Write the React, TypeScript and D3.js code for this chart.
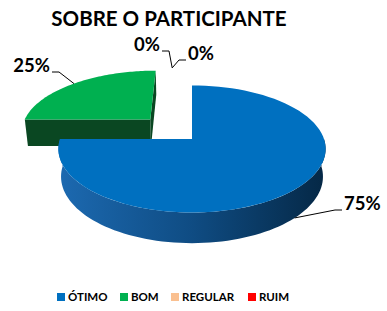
import React from "react";
import * as d3 from "d3";

const width = 387;
const height = 311;

const title = "SOBRE O PARTICIPANTE";
const categories = ["ÓTIMO", "BOM", "REGULAR", "RUIM"];
const values = [75, 25, 0, 0];
const colors = ["#0070C0", "#00B050", "#FAC090", "#FF0000"];
const sideColors = ["#0f4c82", "#0a4722", "#a8784c", "#9a0000"];
const explode = [0, 0.47, 0.47, 0.47];

// 3d projection (excel-like perspective pie)
const cx = 192;
const cy = 139;
const radius = 132;
const tilt = (28 * Math.PI) / 180;
const focal = 5.65;
const depth = 0.24;

function proj(X: number, Y: number, Z: number): [number, number] {
  const up = Y * Math.cos(tilt) + Z * Math.sin(tilt);
  const d = Z * Math.cos(tilt) - Y * Math.sin(tilt);
  const k = focal / (focal + d);
  return [cx + radius * X * k, cy - radius * up * k];
}

// label text positions
const labelPos = [
  { x: 344, y: 210, anchor: "start" },
  { x: 50, y: 72, anchor: "end" },
  { x: 160, y: 51, anchor: "end" },
  { x: 188, y: 60, anchor: "start" },
];
const legendX = [57, 120, 171, 248];

const pieData = d3.pie<number>().sort(null).value((d) => d)(values);

function polyPath(pts: [number, number][]) {
  const p = d3.path();
  pts.forEach((pt, i) => (i ? p.lineTo(pt[0], pt[1]) : p.moveTo(pt[0], pt[1])));
  p.closePath();
  return p.toString();
}

function area(pts: [number, number][]) {
  let s = 0;
  for (let i = 0; i < pts.length; i++) {
    const a = pts[i];
    const b = pts[(i + 1) % pts.length];
    s += a[0] * b[1] - b[0] * a[1];
  }
  return s;
}

export default function App() {
  const slices = pieData.map((d, i) => {
    const mid = (d.startAngle + d.endAngle) / 2;
    const ox = Math.sin(mid) * explode[i];
    const oz = Math.cos(mid) * explode[i];
    const pt = (a: number, r: number, y: number) =>
      proj(ox + Math.sin(a) * r, y, oz + Math.cos(a) * r);
    return { d, i, mid, ox, oz, pt };
  });

  const order = slices
    .filter((s) => s.d.endAngle - s.d.startAngle > 0)
    .sort((a, b) => Math.cos(b.mid) - Math.cos(a.mid));

  const faces: JSX.Element[] = [];
  order.forEach((s) => {
    const { d, i, pt } = s;
    const n = 80;
    const arcPts = (a0: number, a1: number, y: number) =>
      d3.range(n + 1).map((k) => pt(a0 + ((a1 - a0) * k) / n, 1, y));

    // cut faces
    const startFace: [number, number][] = [
      pt(0, 0, 0), pt(d.startAngle, 1, 0), pt(d.startAngle, 1, -depth), pt(0, 0, -depth),
    ];
    const endFace: [number, number][] = [
      pt(0, 0, 0), pt(0, 0, -depth), pt(d.endAngle, 1, -depth), pt(d.endAngle, 1, 0),
    ];
    [startFace, endFace].forEach((f, k) => {
      if (area(f) < 0)
        faces.push(<path key={`c${i}${k}`} d={polyPath(f)} fill={sideColors[i]} />);
    });

    // outer wall, front half only
    const a0 = Math.max(d.startAngle, Math.PI / 2);
    const a1 = Math.min(d.endAngle, (3 * Math.PI) / 2);
    if (a1 > a0) {
      const wall = [...arcPts(a0, a1, 0), ...arcPts(a0, a1, -depth).reverse()];
      faces.push(
        <path key={`w${i}`} d={polyPath(wall)} fill={i === 0 ? "url(#sideBlue)" : sideColors[i]} />
      );
    }

    // top
    const top = [pt(0, 0, 0), ...arcPts(d.startAngle, d.endAngle, 0)];
    faces.push(<path key={`t${i}`} d={polyPath(top)} fill={colors[i]} />);
  });

  // label anchors
  const anchors = slices.map((s) => {
    if (s.d.endAngle - s.d.startAngle > 0) {
      if (Math.cos(s.mid) < 0) return s.pt(s.mid, 1, -depth);
      return s.pt(s.mid, 1, 0);
    }
    // zero slices share a point just past 12 o'clock
    return proj(Math.sin(-0.13) * 1.41, 0, Math.cos(-0.13) * 1.41);
  });

  const font = "Lato, 'Open Sans', sans-serif";

  return (
    <svg width={width} height={height} style={{ position: "fixed", left: 0, top: 0, background: "#fff" }}>
      <defs>
        <linearGradient id="sideBlue" gradientUnits="userSpaceOnUse" x1={cx - radius} x2={cx + radius} y1={0} y2={0}>
          <stop offset="0" stopColor="#1c69b0" />
          <stop offset="0.5" stopColor="#0f4c83" />
          <stop offset="1" stopColor="#052846" />
        </linearGradient>
      </defs>
      <text x={169} y={26} textAnchor="middle" fontFamily={font} fontWeight="bold" fontSize={20.5}>
        {title}
      </text>
      {faces}
      {labelPos.map((l, i) => {
        const dir = l.anchor === "start" ? -1 : 1;
        const e1: [number, number] = [l.x + dir * 2, l.y];
        const e2: [number, number] = [l.x + dir * 9, l.y];
        const line = d3.line()([anchors[i], e2, e1]);
        return (
          <g key={i}>
            <path d={line || ""} fill="none" stroke="#000" strokeWidth={1} />
            <text x={l.x} y={l.y} textAnchor={l.anchor} fontFamily={font} fontWeight="bold" fontSize={18.5}>
              {Math.round((values[i] / d3.sum(values)) * 100)}%
            </text>
          </g>
        );
      })}
      {categories.map((c, i) => (
        <g key={c}>
          <rect x={legendX[i]} y={293} width={8} height={8} fill={colors[i]} />
          <text x={legendX[i] + 11} y={301} fontFamily={font} fontWeight="bold" fontSize={11.5}>
            {c}
          </text>
        </g>
      ))}
    </svg>
  );
}
